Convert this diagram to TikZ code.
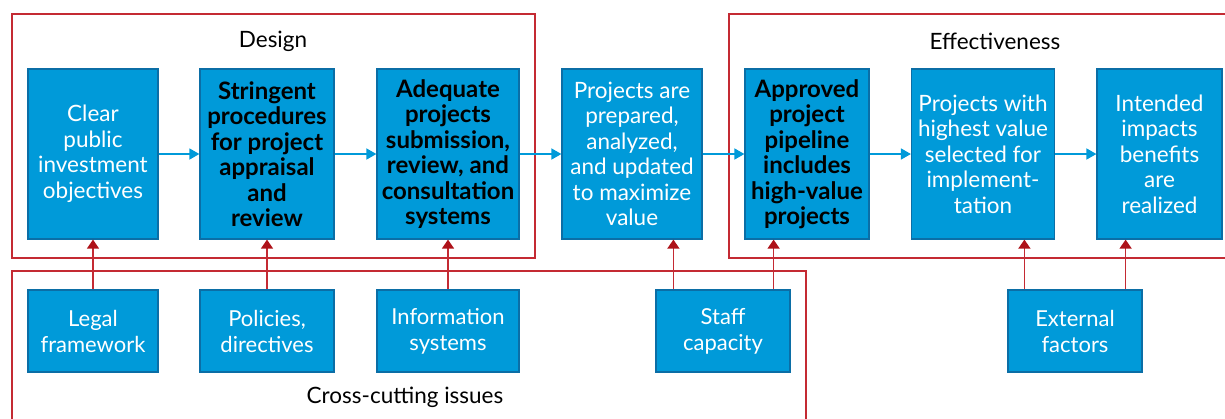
\documentclass[tikz,border=0pt]{standalone}
\usepackage{fontspec}
\setmainfont{Lato}
\usepackage{tikz}
\usetikzlibrary{arrows.meta,calc,positioning}
\usepackage{xcolor}
\definecolor{boxfill}{HTML}{009AD9}
\definecolor{boxedge}{HTML}{0B6EA6}
\definecolor{framered}{HTML}{C42A33}
\definecolor{arrowred}{HTML}{AE1219}

\begin{document}
\begin{tikzpicture}[x=1pt,y=-1pt,
  stage/.style={draw=boxedge,line width=1.2pt,fill=boxfill,text=white,align=center,inner sep=0pt,minimum height=170pt,font=\fontsize{22.5}{25.5}\selectfont},
  keystage/.style={stage,text=black,font=\fontsize{24}{25.5}\selectfont\bfseries},
  driver/.style={stage,minimum height=82pt,minimum width=134pt,font=\fontsize{22}{26}\selectfont},
  frame/.style={draw=framered,line width=1.3pt},
  flow/.style={draw=boxfill,line width=1.5pt,-{Triangle[length=10pt,width=11pt]}},
  push/.style={draw=framered,line width=1.4pt,-{Triangle[length=9pt,width=12pt,color=arrowred]}},
  caption/.style={font=\fontsize{22.5}{26}\selectfont}]
\useasboundingbox (0,0) rectangle (1225,418);
\clip (0,0) rectangle (1225,418);

% group frames
\draw[frame] (12,14) rectangle (535,258);
\draw[frame] (729,14) rectangle (1240,258);
\draw[frame] (12,271) rectangle (806,440);
\node[caption] (design) at (273,41) {Design};
\node[caption] (effect) at (995,41) {Effectiveness};
\node[caption] (cross) at (405,397) {Cross-cutting issues};

% main chain
\node[stage,minimum width=130pt] (b1) at (93,154) {Clear\\public\\investment\\objectives};
\node[keystage,minimum width=134pt] (b2) at (267,154) {Stringent\\procedures\\for project\\appraisal\\and\\review};
\node[keystage,minimum width=142pt] (b3) at (448,154) {Adequate\\projects\\submission,\\review, and\\consultation\\systems};
\node[stage,minimum width=140pt] (b4) at (632,154) {Projects are\\prepared,\\analyzed,\\and updated\\to maximize\\value};
\node[keystage,minimum width=124pt] (b5) at (807,154) {Approved\\project\\pipeline\\includes\\high-value\\projects};
\node[stage,minimum width=143pt] (b6) at (983,154) {Projects with\\highest value\\selected for\\implement-\\tation};
\node[stage,minimum width=125pt] (b7) at (1159.5,154) {Intended\\impacts\\benefits\\are\\realized};

\draw[flow] (b1) -- (b2);
\draw[flow] (b2) -- (b3);
\draw[flow] (b3) -- (b4);
\draw[flow] (b4) -- (b5);
\draw[flow] (b5) -- (b6);
\draw[flow] (b6) -- (b7);

% supporting conditions
\node[driver,minimum width=130pt] (legal) at (93,331) {Legal\\framework};
\node[driver] (policy) at (267,331) {Policies,\\directives};
\node[driver,minimum width=142pt] (infosys) at (448,331) {Information\\systems};
\node[driver] (staff) at (723,331) {Staff\\capacity};
\node[driver] (extern) at (1075,331) {External\\factors};

\draw[push] (legal.north) -- (b1.south);
\draw[push] (policy.north) -- (b2.south);
\draw[push] (infosys.north) -- (b3.south);
\draw[push] ([xshift=18pt]staff.north west) -- ([xshift=18pt]staff.north west |- b4.south);
\draw[push] ([xshift=-17pt]staff.north east) -- ([xshift=-17pt]staff.north east |- b5.south);
\draw[push] ([xshift=17pt]extern.north west) -- ([xshift=17pt]extern.north west |- b6.south);
\draw[push] ([xshift=-17pt]extern.north east) -- ([xshift=-17pt]extern.north east |- b7.south);
\end{tikzpicture}
\end{document}
